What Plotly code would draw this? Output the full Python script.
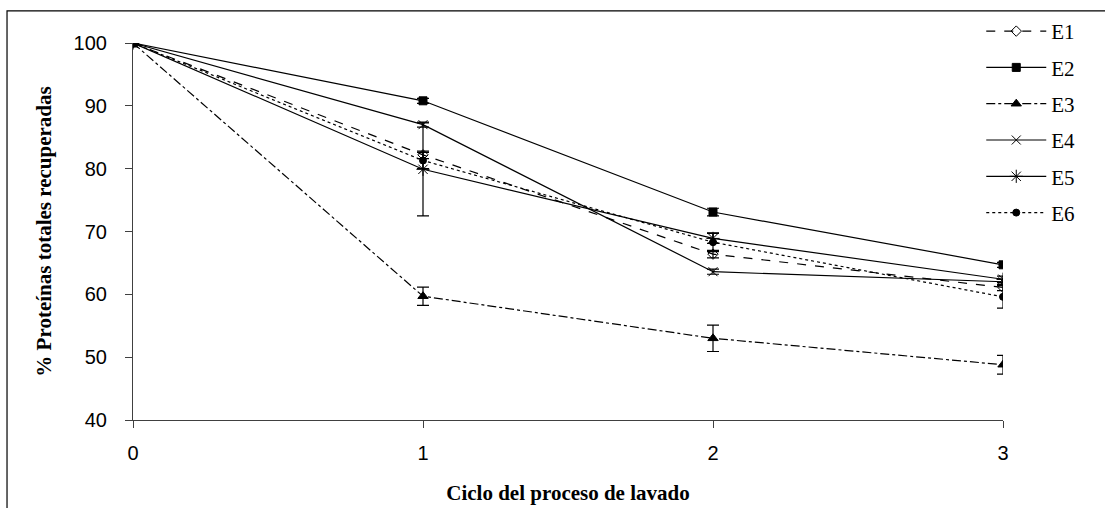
import plotly.graph_objects as go

ciclos = [0, 1, 2, 3]
series = ["E1", "E2", "E3", "E4", "E5", "E6"]
E1 = [100, 82.2, 66.4, 61.1]
E2 = [100, 90.8, 73.1, 64.7]
E3 = [100, 59.7, 53.0, 48.8]
E4 = [100, 87.0, 63.6, 62.0]
E5 = [100, 79.9, 68.9, 62.4]
E6 = [100, 81.3, 68.3, 59.6]
err_E1 = [0, 0.6, 0.6, 0.5]
err_E2 = [0, 0.4, 0.6, 0.4]
err_E3 = [0, 1.45, 2.1, 1.5]
err_E4 = [0, 0.4, 0.4, 0.4]
err_E5 = [0, 7.4, 0.8, 0.5]
err_E6 = [0, 1.3, 1.5, 1.8]
y_ticks = [40, 50, 60, 70, 80, 90, 100]
x_ticks = [0, 1, 2, 3]

values = [E1, E2, E3, E4, E5, E6]
errors = [err_E1, err_E2, err_E3, err_E4, err_E5, err_E6]
dashes = ["dash", "solid", "dashdot", "solid", "solid", "dot"]
symbols = ["diamond-open", "square", "triangle-up", "x-thin-open", "asterisk-open", "circle"]
msizes = [8, 8, 9, 9, 11, 7]

fig = go.Figure()
for name, vals, err, dash, sym, ms in zip(series, values, errors, dashes, symbols, msizes):
    fig.add_trace(go.Scatter(
        x=ciclos, y=vals, name=name, mode="lines+markers",
        legendgroup=name,
        line=dict(color="black", width=1.2, dash=dash),
        marker=dict(symbol=sym, size=ms, color="black",
                    line=dict(color="black", width=1)),
        error_y=dict(type="data", array=err, visible=True,
                     color="black", thickness=1.2, width=6),
    ))

fig.update_layout(
    width=1105, height=508,
    margin=dict(l=133, r=102, t=43, b=88, autoexpand=False),
    paper_bgcolor="white", plot_bgcolor="white",
    showlegend=True,
    legend=dict(x=0.975, xanchor="left", y=1.085, yanchor="top",
                font=dict(family="Liberation Serif", size=21, color="black"),
                itemwidth=60, tracegroupgap=6, traceorder="grouped",
                bgcolor="rgba(0,0,0,0)"),
    xaxis=dict(range=[0, 3], tickvals=x_ticks, showgrid=False, zeroline=False,
               showline=True, linecolor="#404040", linewidth=1.2,
               ticks="outside", ticklen=7, tickcolor="#404040", ticklabelstandoff=8,
               tickfont=dict(family="Liberation Sans", size=20, color="black"),
               title=dict(text="<b>Ciclo del proceso de lavado</b>", standoff=22,
                          font=dict(family="Liberation Serif", size=21, color="black"))),
    yaxis=dict(range=[40, 100], tickvals=y_ticks, showgrid=False, zeroline=False,
               showline=True, linecolor="#404040", linewidth=1.2,
               ticks="outside", ticklen=7, tickcolor="#404040", ticklabelstandoff=14,
               tickfont=dict(family="Liberation Sans", size=20, color="black"),
               title=dict(text="<b>% Proteínas totales recuperadas</b>", standoff=16,
                          font=dict(family="Liberation Serif", size=21, color="black"))),
)

fig.add_shape(type="rect", xref="paper", yref="paper",
              x0=-0.1448, x1=1.13, y0=-0.26, y1=1.085,
              line=dict(color="black", width=1.2), fillcolor="rgba(0,0,0,0)", layer="below")

fig.write_html("out.html")
